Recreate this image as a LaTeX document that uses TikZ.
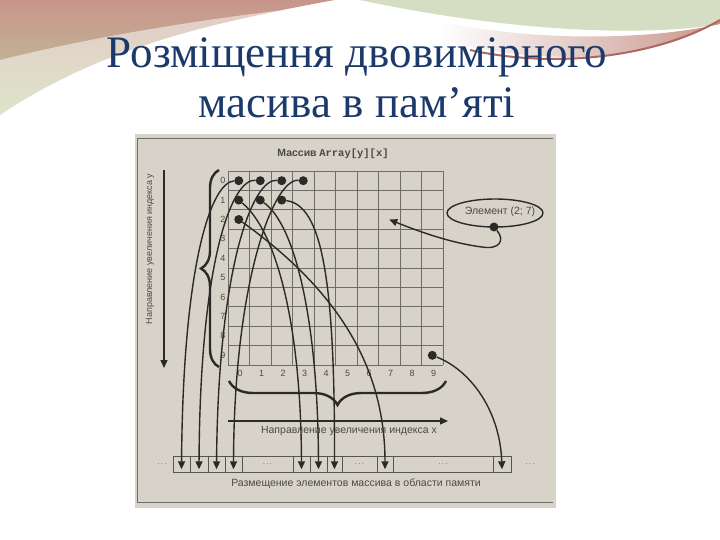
\documentclass[tikz,border=0pt]{standalone}
\usepackage{fontspec}
\setmainfont{Liberation Serif}
\newfontfamily\pfont{Liberation Sans}
\newfontfamily\pmono{Liberation Mono}
\usetikzlibrary{arrows.meta,decorations.pathreplacing}
\definecolor{titleblue}{HTML}{1B3A6B}
\definecolor{rose}{HTML}{C8958C}
\definecolor{leafg}{HTML}{BCCB98}
\definecolor{sage}{HTML}{D5DDC3}
\definecolor{darkrose}{HTML}{B0675E}
\definecolor{paper}{HTML}{D8D3C8}
\definecolor{ink}{HTML}{2A2A28}
\definecolor{gridc}{HTML}{6E6D68}
\definecolor{txt}{HTML}{4A4A46}
\begin{document}
\begin{tikzpicture}[x=1pt,y=-1pt,
  gridl/.style={draw=gridc,line width=0.8pt},
  link/.style={draw=ink,line width=1.4pt,-{Triangle[length=8pt,width=7pt]}},
  dotn/.style={circle,fill=ink,inner sep=0pt,minimum size=9pt},
  cell/.style={draw=ink!80,line width=0.6pt,inner sep=0pt,minimum height=16pt},
  lbl/.style={font=\pfont\fontsize{9}{10}\selectfont,text=txt},
  dots/.style={font=\pfont\fontsize{8}{9}\selectfont,text=txt!80},
  brc/.style={draw=ink,line width=2.4pt,decorate,decoration={brace,amplitude=#1}},
  title/.style={font=\fontsize{45}{50}\selectfont,text=titleblue,anchor=base,inner sep=0pt}
]
\useasboundingbox (0,0) rectangle (720,540);
\fill[white] (0,0) rectangle (720,540);
% --- decorative header
\shade[top color=rose, bottom color=leafg] (0,0) -- (335,0) .. controls (240,18) and (110,40) .. (0,115) -- cycle;
\shade[top color=white, bottom color=white, opacity=0.5] (0,60) .. controls (80,40) and (180,22) .. (300,8) -- (335,0) .. controls (240,18) and (110,40) .. (0,115) -- cycle;
\fill[sage] (360,0) -- (720,0) -- (720,24) .. controls (640,38) and (500,30) .. (360,0) -- cycle;
\shade[left color=white, right color=rose] (440,22) .. controls (540,42) and (650,40) .. (720,24) -- (720,20) .. controls (660,58) and (560,70) .. (440,40) -- cycle;
\draw[darkrose, line width=2pt] (470,50) .. controls (560,70) and (660,55) .. (720,20);
% --- scanned panel
\fill[paper] (135,134) rectangle (556,508);
\draw[gridc, line width=0.9pt] (553,138) -- (137,138) -- (137,502) -- (553,502);
% title
\node[title] (t1) at (357,68) {Розміщення двовимірного};
\node[title] (t2) at (357,118) {масива в пам’яті};
% grid
\foreach \i in {0,...,10} {
  \draw[gridl] (228+21.5*\i,171) -- (228+21.5*\i,365);
  \draw[gridl] (228,171+19.4*\i) -- (443,171+19.4*\i);
}
\foreach \i in {0,...,9} {
  \node[lbl] (r\i) at (223,180.7+19.4*\i) {\i};
  \node[lbl] (c\i) at (240+21.5*\i,373) {\i};
}
\node[font=\fontsize{10.5}{12}\selectfont,text=txt] (head) at (333,154) {{\pfont\bfseries Массив} {\pmono\bfseries Array[y][x]}};
% dots
\node[dotn] (d00) at (238.75,180.7) {};
\node[dotn] (d01) at (260.25,180.7) {};
\node[dotn] (d02) at (281.75,180.7) {};
\node[dotn] (d03) at (303.25,180.7) {};
\node[dotn] (d10) at (238.75,200.1) {};
\node[dotn] (d11) at (260.25,200.1) {};
\node[dotn] (d12) at (281.75,200.1) {};
\node[dotn] (d20) at (238.75,219.5) {};
\node[dotn] (d99) at (432.25,355.3) {};
\coordinate (e27) at (389.25,219.5);
% memory strip
\node[cell,minimum width=17pt] (m1) at (181.5,464) {};
\node[cell,minimum width=18pt] (m2) at (199,464) {};
\node[cell,minimum width=17pt] (m3) at (216.5,464) {};
\node[cell,minimum width=17pt] (m4) at (233.5,464) {};
\node[cell,minimum width=51pt,dots] (g1) at (267.5,464) {.\,.\,.};
\node[cell,minimum width=17pt] (m5) at (301.5,464) {};
\node[cell,minimum width=17pt] (m6) at (318.5,464) {};
\node[cell,minimum width=15pt] (m7) at (334.5,464) {};
\node[cell,minimum width=35pt,dots] (g2) at (359.5,464) {.\,.\,.};
\node[cell,minimum width=16pt] (m8) at (385,464) {};
\node[cell,minimum width=100pt,dots] (g3) at (443,464) {.\,.\,.};
\node[cell,minimum width=18pt] (m9) at (502,464) {};
\node[dots] (ol) at (162,464) {.\,.\,.};
\node[dots] (or) at (530,464) {.\,.\,.};
% links
\draw[link] (d00) .. controls (212,182) and (183,260) .. ([yshift=3pt]m1.south);
\draw[link] (d01) .. controls (232,178) and (200,260) .. ([yshift=3pt]m2.south);
\draw[link] (d02) .. controls (252,178) and (218,270) .. ([yshift=3pt]m3.south);
\draw[link] (d03) .. controls (274,178) and (234,280) .. ([yshift=3pt]m4.south);
\draw[link] (d10) .. controls (275,230) and (301,320) .. ([yshift=3pt]m5.south);
\draw[link] (d11) .. controls (295,225) and (318,320) .. ([yshift=3pt]m6.south);
\draw[link] (d12) .. controls (322,205) and (335,280) .. ([yshift=3pt]m7.south);
\draw[link] (d20) .. controls (330,285) and (385,360) .. ([yshift=3pt]m8.south);
\draw[link] (d99) .. controls (470,370) and (500,410) .. ([yshift=3pt]m9.south);
% element callout
\draw[ink, line width=1.4pt] (495,213) ellipse [x radius=48, y radius=14];
\node[lbl,font=\pfont\fontsize{10.5}{12}\selectfont] (el) at (500,212) {Элемент (2; 7)};
\node[dotn] (ed) at (494,227) {};
\draw[link] (ed) .. controls (505,240) and (500,250) .. (482,247) .. controls (450,243) and (415,230) .. (e27);
% braces
\coordinate (lb1) at (219,367);
\coordinate (lb2) at (219,170);
\draw[brc=18pt] (lb1) -- (lb2);
\coordinate (bb1) at (446,381);
\coordinate (bb2) at (229,381);
\draw[brc=24pt] (bb1) -- (bb2);
% direction arrows
\coordinate (ya) at (164,170);
\coordinate (yb) at (164,368);
\draw[link] (ya) -- (yb);
\coordinate (xa) at (228,421);
\coordinate (xb) at (448,421);
\draw[link] (xa) -- (xb);
\node[lbl,rotate=90,font=\pfont\fontsize{9}{10}\selectfont] (ylab) at (150,249) {Направление увеличения индекса y};
\node[lbl,font=\pfont\fontsize{10.5}{12}\selectfont] (xlab) at (349,431) {Направление увеличения индекса x};
\node[lbl,font=\pfont\fontsize{10.5}{12}\selectfont] (mlab) at (356,484) {Размещение элементов массива в области памяти};
\end{tikzpicture}
\end{document}
